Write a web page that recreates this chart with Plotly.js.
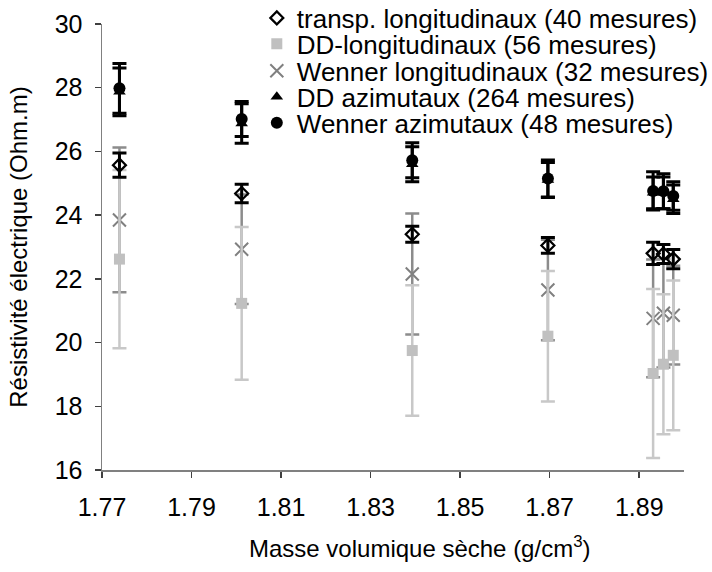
<!DOCTYPE html>
<html>
<head>
<meta charset="utf-8">
<script src="https://cdn.plot.ly/plotly-3.0.1.min.js"></script>
<style>html,body{margin:0;padding:0;background:#fff}#chart{width:712px;height:572px}</style>
</head>
<body>
<div id="chart"></div>
<script>
// Data
const xTranspLong = [1.7739, 1.8012, 1.8393, 1.8696, 1.8931, 1.8954, 1.8976];
const yTranspLong = [25.57, 24.68, 23.40, 23.05, 22.80, 22.78, 22.62];
const eTranspLong = [0.38, 0.29, 0.25, 0.25, 0.35, 0.30, 0.30];

const xDDLong = [1.7739, 1.8012, 1.8393, 1.8696, 1.8931, 1.8954, 1.8976];
const yDDLong = [22.62, 21.23, 19.75, 20.20, 19.03, 19.32, 19.60];
const eDDLong = [2.80, 2.40, 2.05, 2.05, 2.65, 2.20, 2.35];

const xWenLong = [1.7739, 1.8012, 1.8393, 1.8696, 1.8931, 1.8954, 1.8976];
const yWenLong = [23.85, 22.93, 22.15, 21.65, 20.76, 20.92, 20.86];
const eWenLong = [2.27, 1.72, 1.90, 1.58, 1.85, 1.70, 1.55];

const xDDAz = [1.7739, 1.8012, 1.8393, 1.8696, 1.8931, 1.8954, 1.8976];
const yDDAz = [27.87, 26.88, 25.60, 25.10, 24.70, 24.70, 24.50];
const eDDAz = [0.75, 0.62, 0.55, 0.55, 0.50, 0.50, 0.45];

const xWenAz = [1.7739, 1.8012, 1.8393, 1.8696, 1.8931, 1.8954, 1.8976];
const yWenAz = [27.98, 27.02, 25.72, 25.15, 24.76, 24.75, 24.60];
const eWenAz = [0.78, 0.55, 0.55, 0.58, 0.60, 0.55, 0.45];

const names = [
  'transp. longitudinaux (40 mesures)',
  'DD-longitudinaux (56 mesures)',
  'Wenner longitudinaux (32 mesures)',
  'DD azimutaux (264 mesures)',
  'Wenner azimutaux (48 mesures)'
];
const xTitle = 'Masse volumique sèche (g/cm<sup>3</sup>)';
const yTitle = 'Résistivité électrique (Ohm.m)';
const xTicks = [1.77, 1.79, 1.81, 1.83, 1.85, 1.87, 1.89];
const yTicks = [16, 18, 20, 22, 24, 26, 28, 30];

function eb(arr, color, th) {
  return {type: 'data', array: arr, visible: true, color: color, thickness: th, width: 7};
}

const traces = [
  {x: xWenLong, y: yWenLong, name: names[2], legend: 'legend3', mode: 'markers', type: 'scatter',
   marker: {symbol: 'x-thin-open', size: 13, color: '#808080', line: {width: 2, color: '#808080'}},
   error_y: eb(eWenLong, '#8c8c8c', 2.5)},
  {x: xDDLong, y: yDDLong, name: names[1], legend: 'legend2', mode: 'markers', type: 'scatter',
   marker: {symbol: 'square', size: 11, color: '#c0c0c0'},
   error_y: eb(eDDLong, '#c8c8c8', 2.5)},
  {x: xTranspLong, y: yTranspLong, name: names[0], legend: 'legend', mode: 'markers', type: 'scatter',
   marker: {symbol: 'diamond-open', size: 10, color: '#000000', line: {width: 2.2, color: '#000000'}},
   error_y: eb(eTranspLong, '#000000', 3)},
  {x: xDDAz, y: yDDAz, name: names[3], legend: 'legend4', mode: 'markers', type: 'scatter',
   marker: {symbol: 'triangle-up', size: 11, color: '#000000'},
   error_y: eb(eDDAz, '#000000', 3)},
  {x: xWenAz, y: yWenAz, name: names[4], legend: 'legend5', mode: 'markers', type: 'scatter',
   marker: {symbol: 'circle', size: 12, color: '#000000'},
   error_y: eb(eWenAz, '#000000', 3)}
];

const fontFam = '"Liberation Sans", Arial, sans-serif';
const rowY = [1.0135, 0.9554, 0.8948, 0.8365, 0.7781];
function leg(i) {
  return {x: 0.266, y: rowY[i], xanchor: 'left', yanchor: 'middle', bgcolor: 'rgba(0,0,0,0)',
          borderwidth: 0, font: {family: fontFam, size: 26, color: '#000'}, itemwidth: 30};
}

const layout = {
  width: 712, height: 572,
  margin: {l: 102, r: 28, t: 24, b: 102, autoexpand: false},
  paper_bgcolor: '#ffffff', plot_bgcolor: '#ffffff',
  font: {family: fontFam, size: 24, color: '#000000'},
  showlegend: true,
  legend: leg(0), legend2: leg(1), legend3: leg(2), legend4: leg(3), legend5: leg(4),
  xaxis: {
    range: [1.77, 1.90], tickmode: 'array', tickvals: xTicks, ticktext: xTicks.map(v => v.toFixed(2)),
    showgrid: false, zeroline: false, showline: true, linecolor: '#808080', linewidth: 1.5,
    ticks: 'outside', ticklen: 6, tickcolor: '#404040', tickwidth: 1.5,
    tickfont: {family: fontFam, size: 25}, ticklabelstandoff: 8
  },
  yaxis: {
    range: [16, 30], tickmode: 'array', tickvals: yTicks, ticktext: yTicks.map(String),
    showgrid: false, zeroline: false, showline: true, linecolor: '#808080', linewidth: 1.5,
    ticks: 'outside', ticklen: 6, tickcolor: '#404040', tickwidth: 1.5,
    tickfont: {family: fontFam, size: 25}, ticklabelstandoff: 7,
    title: {text: yTitle, font: {family: fontFam, size: 24}, standoff: 20}
  },
  annotations: [
    {text: xTitle, xref: 'paper', yref: 'paper', x: 0.545, y: -0.172, xanchor: 'center', yanchor: 'middle',
     showarrow: false, font: {family: fontFam, size: 24, color: '#000'}}
  ]
};

Plotly.newPlot('chart', traces, layout, {displayModeBar: false, staticPlot: true});
</script>
</body>
</html>
